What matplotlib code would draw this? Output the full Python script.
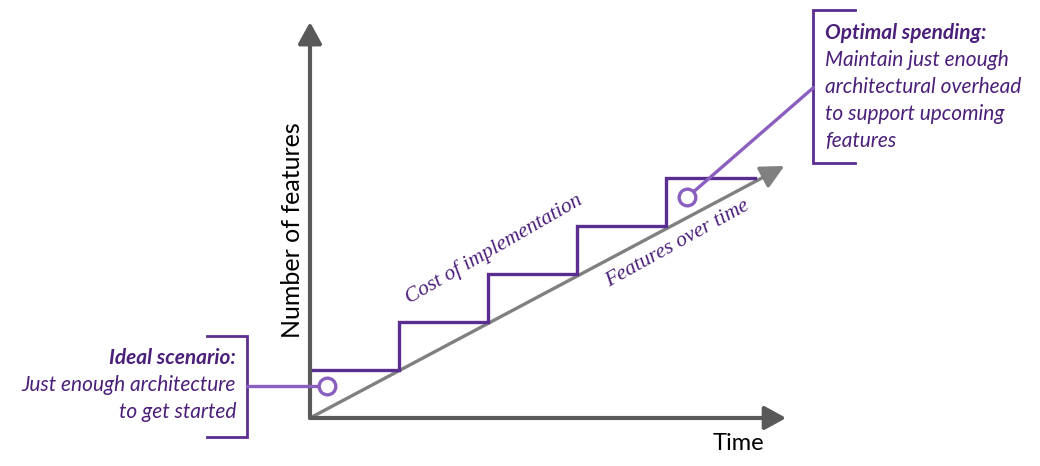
import matplotlib
matplotlib.use("Agg")
import matplotlib.pyplot as plt

# ---- data (abstract units: time steps / feature counts) ----
step_times = [0, 1, 2, 3, 4, 5]
cost_levels = [1, 2, 3, 4, 5, 5]
trend_time = [0, 5.33]
trend_features = [0, 5.25]
ideal_point = (0.19, 0.67)
optimal_point = (4.24, 4.6)
x_axis_end = 5.35
y_axis_end = 8.25

x_label = "Time"
y_label = "Number of features"
cost_label = "Cost of implementation"
trend_label = "Features over time"
ideal_title = "Ideal scenario:"
ideal_lines = ["Just enough architecture", "to get started"]
optimal_title = "Optimal spending:"
optimal_lines = ["Maintain just enough", "architectural overhead",
                 "to support upcoming", "features"]

# ---- styling ----
W, H = 1040, 466
AX_COL = "#595959"
TREND_COL = "#808080"
STAIR_COL = "#5c2d91"
CALL_COL = "#8b5fbf"
TXT_COL = "#4b1f7a"

fig = plt.figure(figsize=(W / 100, H / 100), dpi=100)
ax = fig.add_axes([0, 0, 1, 1])
# pixel scale: origin at (310, 418); 1 time unit = 89 px, 1 feature = 48 px
ox, oy, sx, sy = 310, 418, 89.0, 48.0
ax.set_xlim(-ox / sx, (W - ox) / sx)
ax.set_ylim((oy - H) / sy, oy / sy)
ax.axis("off")


def p2d(px, py):
    return ((px - ox) / sx, (oy - py) / sy)


# axes arrows
for tip in [(x_axis_end, 0), (0, y_axis_end)]:
    ax.annotate("", xy=tip, xytext=(0, 0),
                arrowprops=dict(arrowstyle="-|>,head_length=1.0,head_width=0.55",
                                mutation_scale=13, lw=3.0, color=AX_COL,
                                shrinkA=0, shrinkB=0), zorder=3)
# trend arrow
ax.annotate("", xy=(trend_time[1], trend_features[1]),
            xytext=(trend_time[0], trend_features[0]),
            arrowprops=dict(arrowstyle="-|>,head_length=1.1,head_width=0.55",
                            mutation_scale=13, lw=2.4, color=TREND_COL,
                            shrinkA=0, shrinkB=0), zorder=2)

# staircase
ax.plot(step_times, cost_levels, drawstyle="steps-post", color=STAIR_COL,
        lw=2.4, solid_joinstyle="miter", zorder=2)

fam = ["Lato", "DejaVu Sans"]
serif = ["Liberation Serif", "DejaVu Serif"]

# axis labels
ax.text(*p2d(738, 443), x_label, fontsize=17, ha="center", va="center",
        color="black", family=fam)
ax.text(*p2d(292, 230), y_label, fontsize=18, ha="center", va="center",
        rotation=90, color="black", family=fam)

# rotated labels
ax.text(*p2d(494, 249), cost_label, fontsize=15.5, style="italic",
        family=serif, rotation=30, ha="center", va="center",
        color=TXT_COL, rotation_mode="anchor")
ax.text(*p2d(678, 244), trend_label, fontsize=15.5, style="italic",
        family=serif, rotation=29, ha="center", va="center",
        color=TXT_COL, rotation_mode="anchor")

# callout circles
for pt in [ideal_point, optimal_point]:
    ax.plot(*pt, marker="o", ms=12, mfc="white", mec=CALL_COL, mew=2.4,
            zorder=5)

# left callout bracket
bx, by0, by1, btick = 247, 336, 437, 207
ax.plot([p2d(btick, by0)[0], p2d(bx, by0)[0], p2d(bx, by1)[0], p2d(btick, by1)[0]],
        [p2d(btick, by0)[1], p2d(bx, by0)[1], p2d(bx, by1)[1], p2d(btick, by1)[1]],
        color=STAIR_COL, lw=2.0, solid_joinstyle="miter")
ax.plot([p2d(bx, 387)[0], ideal_point[0]], [ideal_point[1], ideal_point[1]],
        color=CALL_COL, lw=2.4, zorder=4)

# right callout bracket
rx, ry0, ry1, rtick = 813, 10, 163, 855
ax.plot([p2d(rtick, ry0)[0], p2d(rx, ry0)[0], p2d(rx, ry1)[0], p2d(rtick, ry1)[0]],
        [p2d(rtick, ry0)[1], p2d(rx, ry0)[1], p2d(rx, ry1)[1], p2d(rtick, ry1)[1]],
        color=STAIR_COL, lw=2.0, solid_joinstyle="miter")
ax.plot([p2d(rx, 88)[0], optimal_point[0]], [p2d(rx, 88)[1], optimal_point[1]],
        color=CALL_COL, lw=2.4, zorder=4)

# callout texts
lh = 27
fs = 15
ax.text(*p2d(236, 358), ideal_title, fontsize=fs, style="italic",
        weight="bold", family=fam, ha="right", va="center", color=TXT_COL)
for i, s in enumerate(ideal_lines):
    ax.text(*p2d(236, 385 + i * lh), s, fontsize=fs, style="italic",
            family=fam, ha="right", va="center", color=TXT_COL)

ax.text(*p2d(825, 33), optimal_title, fontsize=fs, style="italic",
        weight="bold", family=fam, ha="left", va="center", color=TXT_COL)
for i, s in enumerate(optimal_lines):
    ax.text(*p2d(825, 60 + i * lh), s, fontsize=fs, style="italic",
            family=fam, ha="left", va="center", color=TXT_COL)

fig.savefig("out.png", dpi=100, facecolor="white")
